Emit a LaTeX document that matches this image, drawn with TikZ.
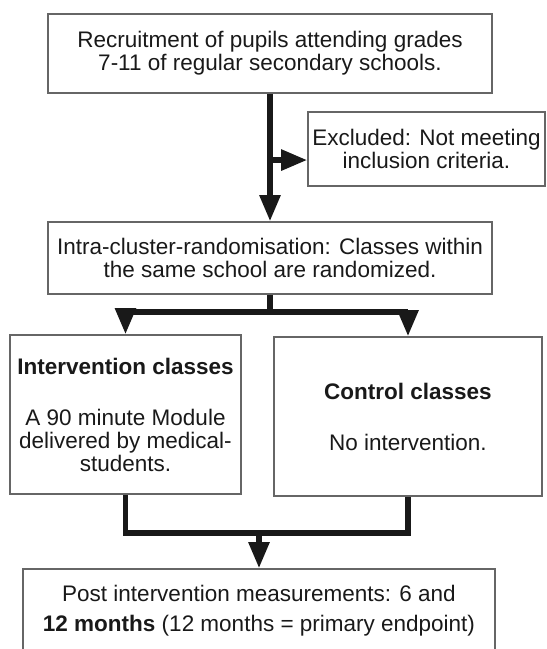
\documentclass[tikz,border=0pt]{standalone}
\usepackage{fontspec}
\setmainfont{Liberation Sans}
\usetikzlibrary{arrows.meta,calc}

\begin{document}
\begin{tikzpicture}[x=0.5pt,y=-0.5pt,>={Triangle[width=10pt,length=13pt]},
    box/.style={draw=black!60,line width=0.8pt,align=center,inner sep=2pt,
        font=\fontsize{11.25}{11.5}\selectfont,text=black!90},
    link/.style={line width=2.75pt,draw=black!90},
    flow/.style={link,->}]
    \clip (0,0) rectangle (547,649);
    \node[box,minimum width=222pt,minimum height=39.5pt] (rec) at (270,53.5) {Recruitment of pupils attending grades\\ 7-11 of regular secondary schools.};
    \node[box,minimum width=118.5pt,minimum height=37pt] (exc) at (426.5,149) {Excluded: Not meeting\\ inclusion criteria.};
    \node[box,minimum width=222pt,minimum height=36pt] (ran) at (270,258) {Intra-cluster-randomisation: Classes within\\ the same school are randomized.};
    \node[box,minimum width=115.5pt,minimum height=79.5pt] (int) at (125.5,414.5) {\textbf{Intervention classes}\\[14pt] A 90 minute Module\\ delivered by medical-\\ students.};
    \node[box,minimum width=134pt,minimum height=79.5pt] (ctl) at (408,416.5) {\textbf{Control classes}\\[14pt] No intervention.};
    \node[box,minimum width=236pt,minimum height=42pt] (post) at (259,611) {Post intervention measurements: 6 and\\[3.5pt] \textbf{12 months} (12 months = primary endpoint)};
    % recruitment and exclusion
    \coordinate (split) at ($(rec.south)!0.52!(ran.north)$);
    \draw[flow] (rec.south) -- (ran.north);
    \draw[flow] (split) -- (split -| exc.west);
    % randomisation into two arms
    \coordinate (fork) at ($(ran.south)+(0,17)$);
    \draw[flow] (ran.south) -- (fork) -| (int.north);
    \draw[flow] (fork) -| (ctl.north);
    % both arms to follow-up
    \coordinate (merge) at ($(post.north)+(0,-35)$);
    \draw[link] (int.south) |- (merge) -| (ctl.south);
    \draw[flow] (merge) -- (post.north);
\end{tikzpicture}
\end{document}
